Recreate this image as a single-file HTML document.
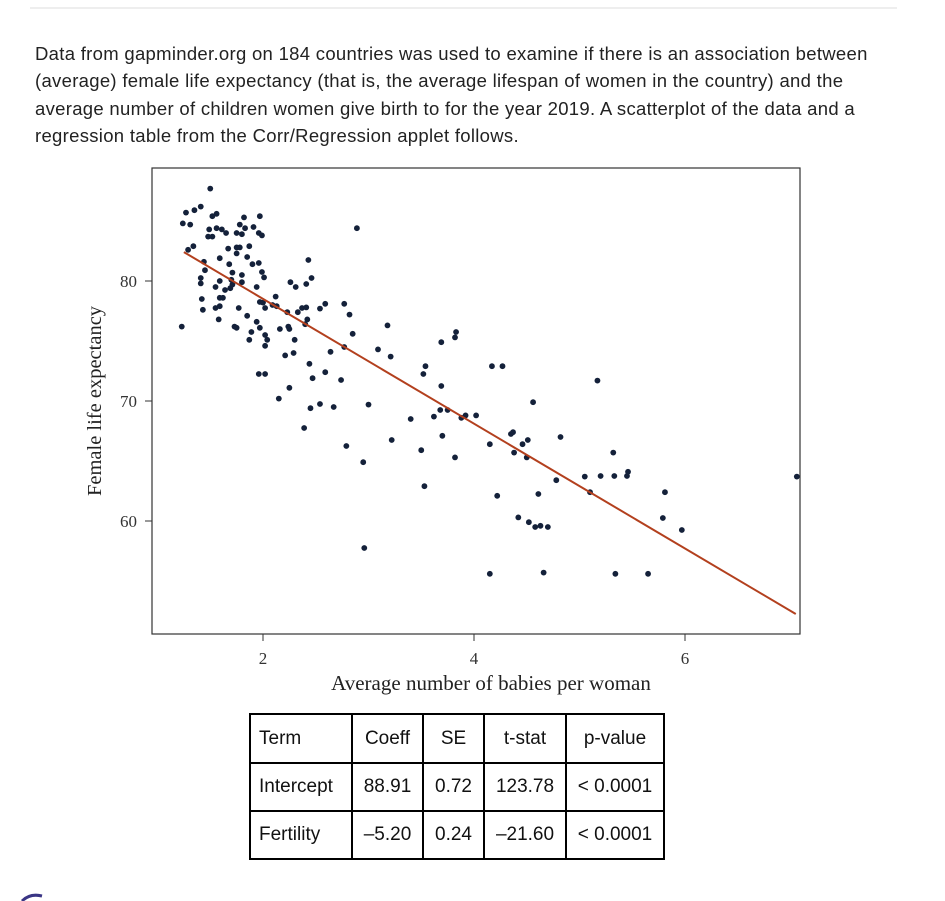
<!DOCTYPE html>
<html><head><meta charset="utf-8">
<style>
body{margin:0;width:945px;height:901px;background:#fff;position:relative;overflow:hidden;font-family:"Liberation Sans",sans-serif;color:#222;}
#rule{position:absolute;left:30px;top:7px;width:867px;height:2px;background:#eee;}
#intro{position:absolute;left:35px;top:40px;width:900px;font-size:18.5px;letter-spacing:0.3px;line-height:27.3px;color:#222;white-space:nowrap;}
#chart{position:absolute;left:0;top:0;}
table{position:absolute;left:249px;top:713px;border-collapse:collapse;font-size:19px;color:#111;table-layout:fixed;width:416px;}
td{border:2px solid #000;padding:0 8px;white-space:nowrap;overflow:hidden;}
td.c{text-align:center;padding:0 2px;}
</style></head><body>
<div id="rule"></div>
<div id="intro">Data from gapminder.org on 184 countries was used to examine if there is an association between<br>(average) female life expectancy (that is, the average lifespan of women in the country) and the<br>average number of children women give birth to for the year 2019. A scatterplot of the data and a<br>regression table from the Corr/Regression applet follows.</div>
<svg id="chart" width="945" height="901">
<rect x="152" y="168" width="648" height="466" fill="#fff" stroke="#333" stroke-width="1.2"/>
<g id="ticks"></g><g id="pts"></g><g id="line"></g>
<text x="491" y="690" text-anchor="middle" font-family="Liberation Serif,serif" font-size="21" fill="#222">Average number of babies per woman</text>
<text transform="translate(101,401) rotate(-90)" text-anchor="middle" font-family="Liberation Serif,serif" font-size="20.5" fill="#222">Female life expectancy</text>
<path d="M22,901 Q30,893 42,896" stroke="#3a3585" stroke-width="3" fill="none"/>
</svg>
<table>
<colgroup><col style="width:102px"><col style="width:71px"><col style="width:61px"><col style="width:82px"><col style="width:98px"></colgroup>
<tr style="height:49px"><td>Term</td><td class="c">Coeff</td><td class="c">SE</td><td class="c">t-stat</td><td class="c">p-value</td></tr>
<tr style="height:48px"><td>Intercept</td><td class="c">88.91</td><td class="c">0.72</td><td class="c">123.78</td><td class="c">&lt; 0.0001</td></tr>
<tr style="height:48px"><td>Fertility</td><td class="c">–5.20</td><td class="c">0.24</td><td class="c">–21.60</td><td class="c">&lt; 0.0001</td></tr>
</table>
<script>
const xTicks=[2,4,6];
const yTicks=[60,70,80];
const intercept=88.91, slope=-5.20;
const lineRange=[1.25,7.05];
const fx=[1.50,1.27,1.35,1.41,1.24,1.31,1.52,1.56,1.82,1.97,2.89,1.78,1.83,1.91,1.49,1.56,1.61,1.65,1.48,1.52,1.75,1.80,1.96,1.99,1.34,1.29,1.67,1.75,1.78,1.87,1.75,1.59,1.85,2.43,1.44,1.45,1.68,1.71,1.90,1.96,1.99,2.01,1.41,1.41,1.59,1.70,1.80,1.80,2.26,2.31,2.41,2.46,1.55,1.64,1.69,1.71,1.94,2.12,1.42,1.43,1.59,1.62,1.97,2.00,2.02,2.09,2.13,1.55,1.59,1.77,2.23,2.33,2.37,2.41,2.59,2.54,2.77,2.82,1.58,1.85,1.94,2.42,2.40,1.23,1.73,1.75,1.97,2.16,2.24,2.25,1.89,2.02,2.30,1.87,2.04,2.02,2.85,2.77,3.09,2.29,2.21,2.64,2.44,1.96,2.02,2.59,2.47,2.74,2.25,2.15,2.45,2.54,2.67,3.00,3.18,3.21,3.40,3.22,2.79,2.95,2.96,2.39,3.54,3.52,3.69,3.83,3.82,3.69,3.62,3.68,3.75,3.88,3.92,4.02,3.70,3.50,3.82,3.53,4.17,4.27,4.15,4.35,4.37,4.51,4.46,4.56,4.50,4.38,4.82,4.22,4.61,4.42,4.52,4.58,4.63,4.70,4.78,4.66,4.15,5.05,5.17,5.20,5.10,5.32,5.33,5.34,5.45,5.46,5.65,5.81,5.79,5.97,7.06];
const fy=[87.7,85.7,85.9,86.2,84.8,84.7,85.4,85.6,85.3,85.4,84.4,84.7,84.4,84.5,84.3,84.4,84.3,84.0,83.7,83.7,84.0,83.9,84.0,83.8,82.9,82.6,82.7,82.8,82.8,82.9,82.3,81.9,82.0,81.75,81.6,80.9,81.4,80.7,81.4,81.5,80.75,80.3,80.25,79.8,80.0,80.1,80.5,79.9,79.9,79.5,79.75,80.25,79.5,79.25,79.4,79.7,79.5,78.7,78.5,77.6,78.6,78.6,78.25,78.2,77.75,78.0,77.9,77.75,77.9,77.75,77.4,77.4,77.75,77.8,78.1,77.7,78.1,77.2,76.8,77.1,76.6,76.8,76.4,76.2,76.2,76.1,76.1,76.0,76.2,76.0,75.75,75.5,75.1,75.1,75.1,74.6,75.6,74.5,74.3,74.0,73.8,74.1,73.1,72.25,72.25,72.4,71.9,71.75,71.1,70.2,69.4,69.75,69.5,69.7,76.3,73.7,68.5,66.75,66.25,64.9,57.75,67.75,72.9,72.25,74.9,75.75,75.3,71.25,68.7,69.25,69.25,68.6,68.8,68.8,67.1,65.9,65.3,62.9,72.9,72.9,66.4,67.25,67.4,66.75,66.4,69.9,65.3,65.7,67.0,62.1,62.25,60.3,59.9,59.5,59.6,59.5,63.4,55.7,55.6,63.7,71.7,63.75,62.4,65.7,63.75,55.6,63.75,64.1,55.6,62.4,60.25,59.25,63.7];
const X=v=>52+105.5*v, Y=v=>1241-12*v;
const NS='http://www.w3.org/2000/svg';
const tg=document.getElementById('ticks');
xTicks.forEach(t=>{
 const l=document.createElementNS(NS,'line');l.setAttribute('x1',X(t));l.setAttribute('x2',X(t));l.setAttribute('y1',634);l.setAttribute('y2',641);l.setAttribute('stroke','#333');
 
 
 tg.appendChild(l);
 const s=document.createElementNS(NS,'text');s.setAttribute('x',X(t));s.setAttribute('y',664);s.setAttribute('text-anchor','middle');s.setAttribute('font-family','Liberation Serif,serif');s.setAttribute('font-size','17');s.setAttribute('fill','#333');s.textContent=t;
 
 
 tg.appendChild(s);
});
yTicks.forEach(t=>{
 const l=document.createElementNS(NS,'line');l.setAttribute('x1',145);l.setAttribute('x2',152);l.setAttribute('y1',Y(t));l.setAttribute('y2',Y(t));l.setAttribute('stroke','#333');
 
 
 tg.appendChild(l);
 const s=document.createElementNS(NS,'text');s.setAttribute('x',137);s.setAttribute('y',Y(t)+6);s.setAttribute('text-anchor','end');s.setAttribute('font-family','Liberation Serif,serif');s.setAttribute('font-size','17');s.setAttribute('fill','#333');s.textContent=t;
 
 
 tg.appendChild(s);
});
const pg=document.getElementById('pts');
fx.forEach((v,i)=>{
 const c=document.createElementNS(NS,'circle');c.setAttribute('cx',X(v));c.setAttribute('cy',Y(fy[i]));c.setAttribute('r',2.9);c.setAttribute('fill','#14213a');
 
 
 pg.appendChild(c);
});
const rl=document.createElementNS(NS,'line');
rl.setAttribute('x1',X(lineRange[0]));rl.setAttribute('y1',Y(intercept+slope*lineRange[0]));
rl.setAttribute('x2',X(lineRange[1]));rl.setAttribute('y2',Y(intercept+slope*lineRange[1]));
rl.setAttribute('stroke','#b3401e');rl.setAttribute('stroke-width','2');


document.getElementById('line').appendChild(rl);
</script>
</body></html>
